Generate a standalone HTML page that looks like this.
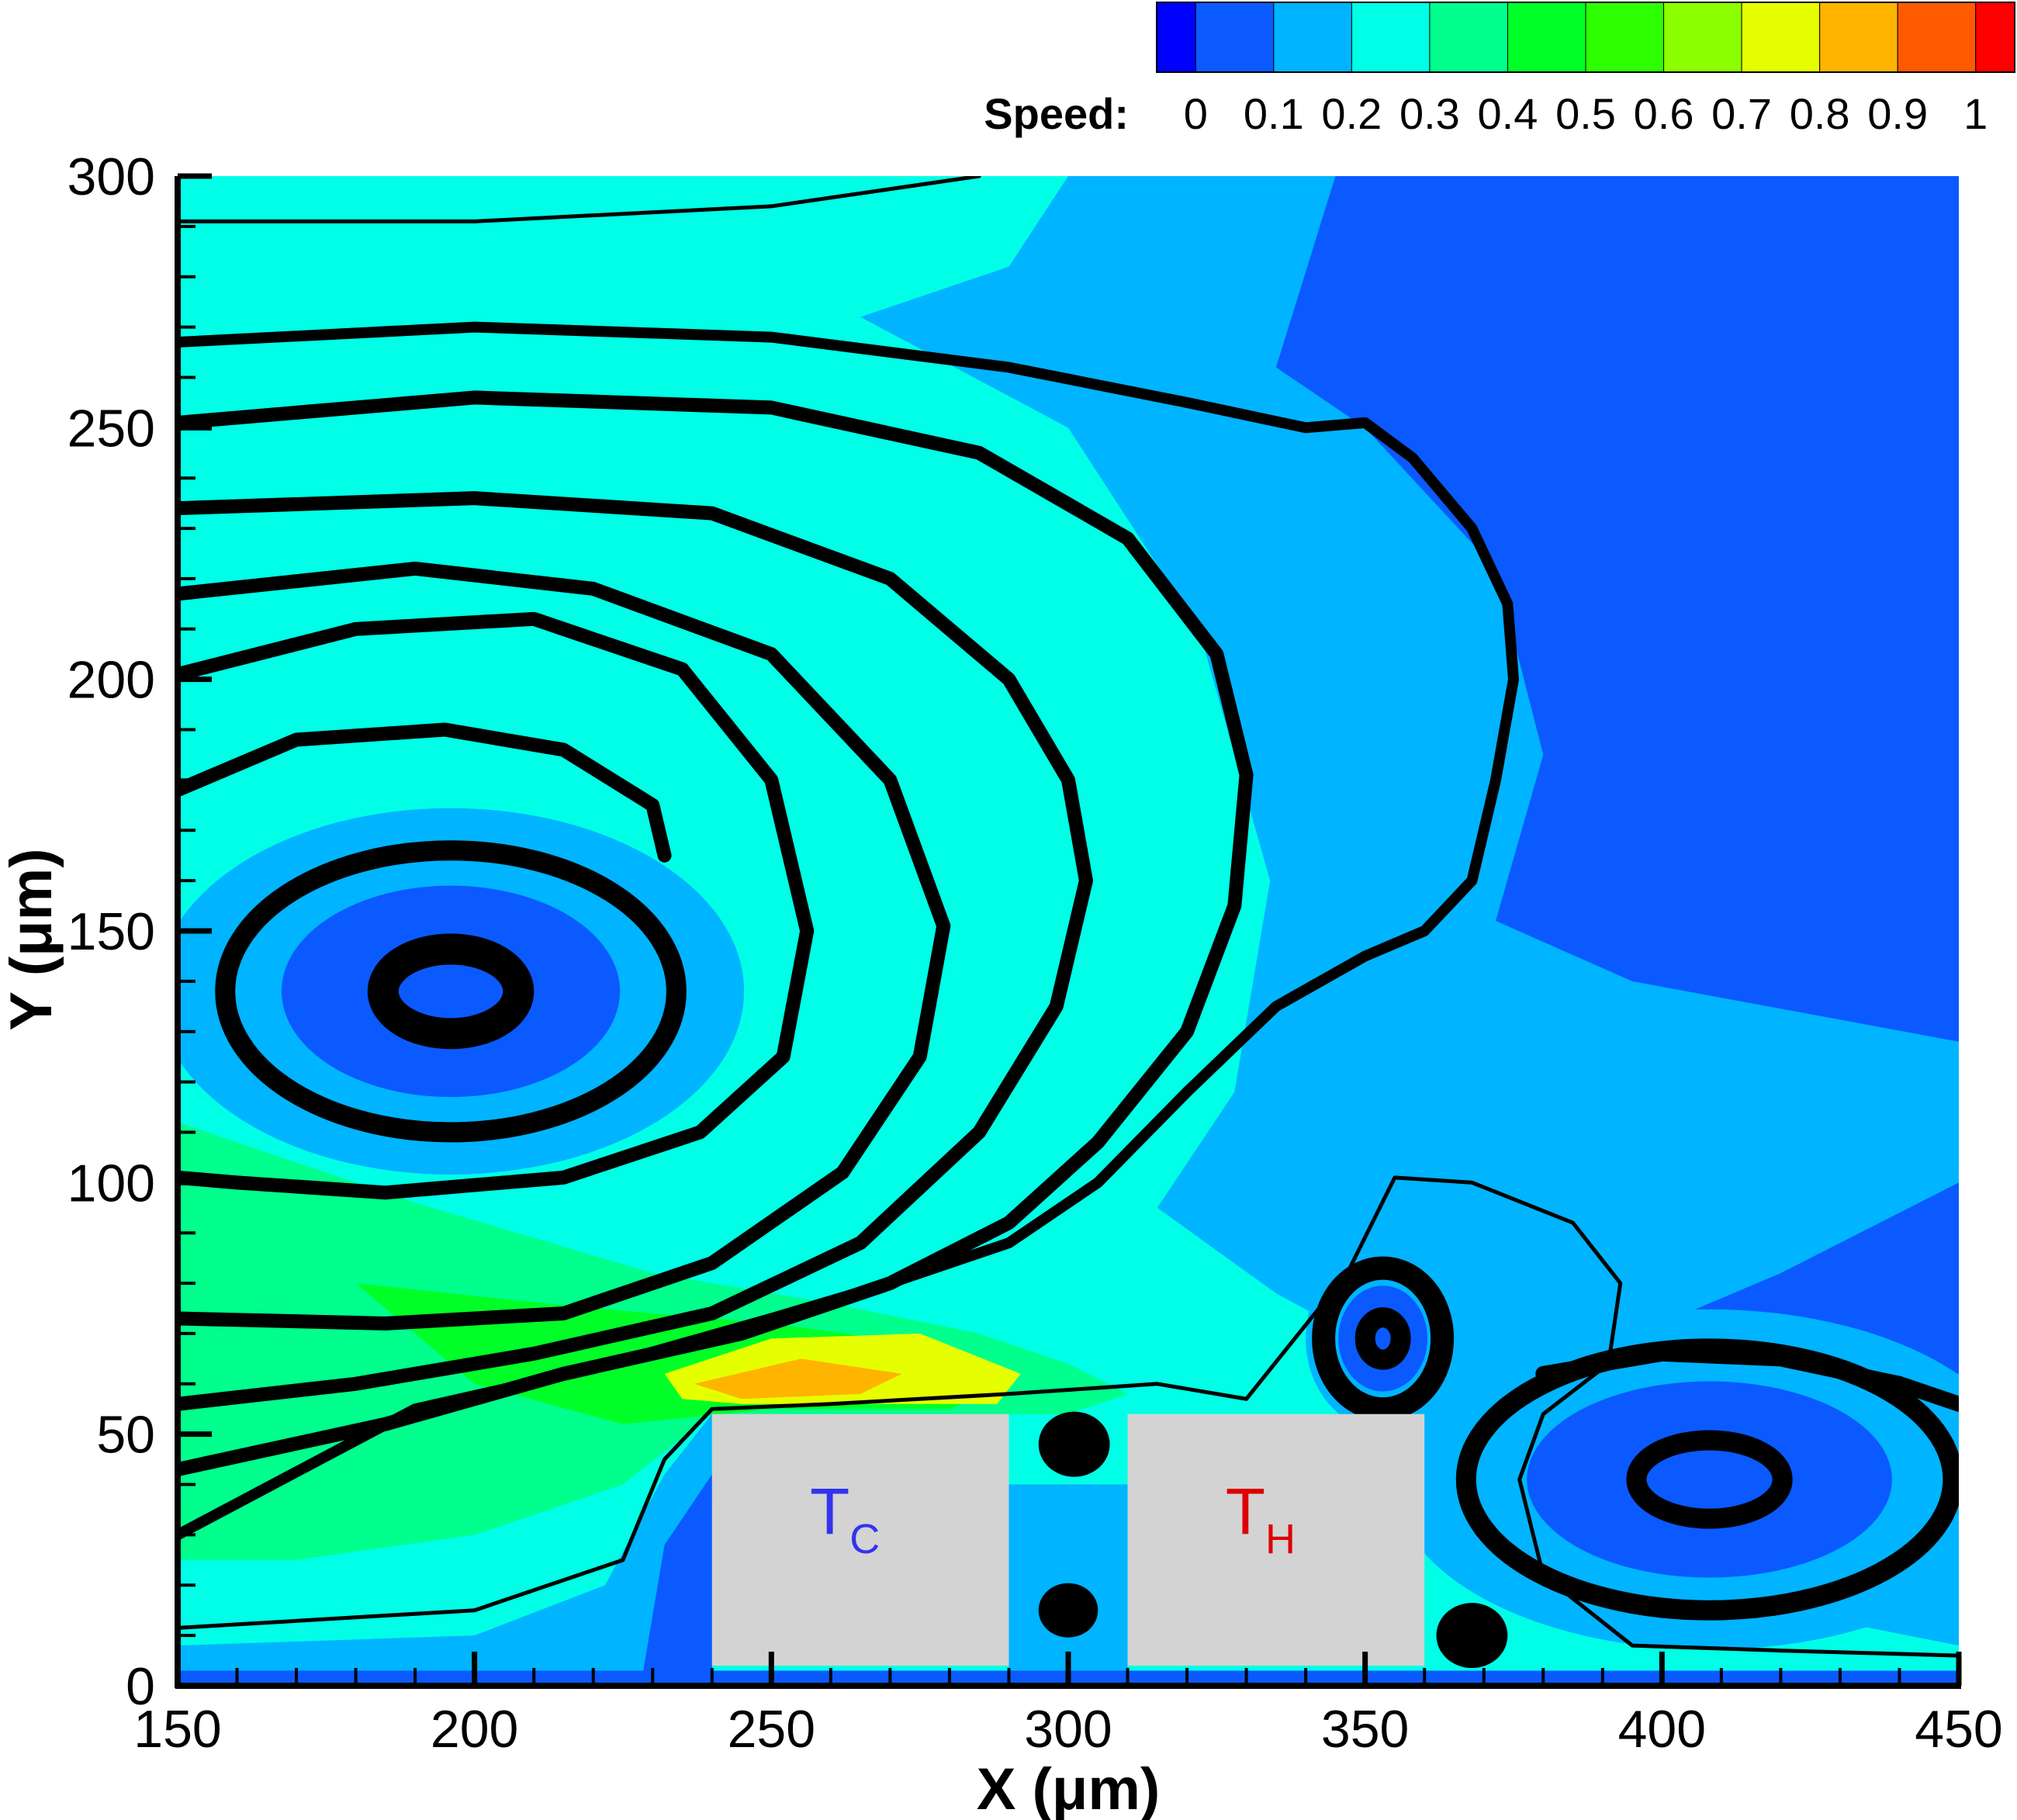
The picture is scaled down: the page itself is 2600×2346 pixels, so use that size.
<!DOCTYPE html>
<html><head><meta charset="utf-8">
<style>
html,body{margin:0;padding:0;background:#fff}
svg{display:block}
text{font-family:"Liberation Sans",sans-serif}
</style></head>
<body>
<svg id="chart" width="2600" height="2346" viewBox="0 0 2600 2346" xmlns="http://www.w3.org/2000/svg">
<defs><clipPath id="pc"><rect x="229" y="227" width="2296" height="1946"/></clipPath></defs>
<g id="field" clip-path="url(#pc)"></g>
<g id="lines" clip-path="url(#pc)"></g>
<g id="blocks"></g>
<g id="axes"></g>
<g id="cbar"></g>
</svg>
<script>
// ---- data ----
const xTicks = [150,200,250,300,350,400,450];
const yTicks = [0,50,100,150,200,250,300];
const cbLevels = [0,0.1,0.2,0.3,0.4,0.5,0.6,0.7,0.8,0.9,1];
const cbLabels = ["0","0.1","0.2","0.3","0.4","0.5","0.6","0.7","0.8","0.9","1"];
const cbColors = ["#0000ff","#0a5aff","#00b4ff","#00ffe6","#00ff8c","#00ff28","#2dff00","#8cff00","#e6ff00","#ffb400","#ff5a00","#ff0000"];
// contour regions (data coords)
const regionLightBlueX = [150,345,335,350,372,380,372,395,450,450,420,400,450,450,150];
const regionLightBlueY = [300,300,262,250,222,185,152,140,128,100,82,72,62,0,0];
const regionCyanX = [150,300,290,265,300,322,334,328,315,335,360,385,420,450,450,150];
const regionCyanY = [300,300,282,272,250,210,160,118,95,78,62,38,15,8,0,0];
const regionGreenX = [150,190,230,260,285,300,310,300,290,240,225,200,170,150];
const regionGreenY = [112,96,82,76,70,64,58,54,54,54,40,30,25,25];
const regionGreen2X = [180,220,250,275,290,280,250,225,200];
const regionGreen2Y = [80,75,72,68,60,55,55,52,60];
const regionYellowX = [232,250,275,292,288,270,245,235];
const regionYellowY = [62,69,70,62,56,56,56,57];
const regionOrangeX = [237,255,272,265,245];
const regionOrangeY = [60,65,62,58,57];
const regionLowBlueX = [150,150,200,222,232,240,240];
const regionLowBlueY = [0,8,10,20,42,54,0];
const regionLowDarkX = [228,232,240,240];
const regionLowDarkY = [0,28,42,0];
const regionGapX = [290,310,310,290];
const regionGapY = [0,0,40,40];
// vortex cores
const vortexCX = [196,353,408];
const vortexCY = [138,69,41];
const vortexRX = [38,10,41];
const vortexRY = [28,14,26];
// streamlines
const s1X=[150,200,250,285]; const s1Y=[291,291,294,300];
const s2X=[150,200,250,290,320,340,350,358,368,374,375,372,368,360,350,335,320,305,290,270,250,220,190,150];
const s2Y=[267,270,268,262,255,250,251,244,230,215,200,180,160,150,145,135,118,100,88,80,73,63,55,30];
const s3X=[150,200,250,285,310,325,330,328,320,305,290,270,245,215,185,150];
const s3Y=[251,256,254,245,228,205,181,155,130,108,92,80,70,62,52,43];
const s4X=[150,200,240,270,290,300,303,298,285,265,240,210,180,150];
const s4Y=[234,236,233,220,200,180,160,135,110,88,74,66,60,56];
const s5X=[150,190,220,250,270,279,275,262,240,215,185,150];
const s5Y=[217,222,218,205,180,151,125,102,84,74,72,73];
const s6X=[150,180,210,235,250,256,252,238,215,185,160,150];
const s6Y=[201,210,212,202,180,150,125,110,101,98,100,101];
const s7X=[150,170,195,215,230,232];
const s7Y=[178,188,190,186,175,165];
const s8X=[150,200,225,232,240,260,290,315,330,347,355,368,385,393,391,380,376,380,395,420,450];
const s8Y=[11.5,15,25,45,55,56,58,60,57,82,101,100,92,80,64,54,41,22,8,7,6];
const s9X=[380,400,420,440,450];
const s9Y=[62,66,65,60,56];
const blobX=[301,300,368]; const blobY=[48,15,10]; const blobR=[6,5,6];
const blockX0=[240,310], blockX1=[290,360], blockY0=4, blockY1=54;

// ---- axes ----
const X0=229,X1=2525,Y0=2173,Y1=227;
const sx=v=>X0+(v-150)/300*(X1-X0);
const sy=v=>Y0-(v/300)*(Y0-Y1);
const NS="http://www.w3.org/2000/svg";
function mk(tag,attrs,parent){const e=document.createElementNS(NS,tag);for(const k in attrs)e.setAttribute(k,attrs[k]);parent.appendChild(e);return e;}
const field=document.getElementById('field');
const lines=document.getElementById('lines');
const blocks=document.getElementById('blocks');
const axes=document.getElementById('axes');
const cbar=document.getElementById('cbar');

let r=mk('rect',{x:X0,y:Y1,width:X1-X0,height:Y0-Y1,fill:cbColors[1]},field);


function poly(xs,ys,col,name){
  const p=mk('polygon',{points:xs.map((x,i)=>sx(x)+','+sy(ys[i])).join(' '),fill:col},field);
  
  
}
poly(regionLightBlueX,regionLightBlueY,cbColors[2],'region-speed-0.2');
poly(regionCyanX,regionCyanY,cbColors[3],'region-speed-0.3');
poly(regionGreenX,regionGreenY,cbColors[4],'region-speed-0.4');
poly(regionGreen2X,regionGreen2Y,cbColors[5],'region-speed-0.5');
poly(regionYellowX,regionYellowY,cbColors[8],'region-speed-0.8');
poly(regionOrangeX,regionOrangeY,cbColors[9],'region-speed-0.9');
poly(regionLowBlueX,regionLowBlueY,cbColors[2],'region-low-speed');
poly(regionLowDarkX,regionLowDarkY,cbColors[1],'region-lowest-speed');
poly(regionGapX,regionGapY,cbColors[2],'region-gap-speed');
[[1.3,2],[0.75,1]].forEach(([k,ci])=>{
  vortexCX.forEach((c,i)=>{
    const e=mk('ellipse',{cx:sx(c),cy:sy(vortexCY[i]),rx:vortexRX[i]*k*7.653,ry:vortexRY[i]*k*6.487,fill:cbColors[ci]},field);
    
    
  });
});
let bs=mk('rect',{x:X0,y:sy(3),width:X1-X0,height:sy(0)-sy(3),fill:cbColors[1]},field);



function path(xs,ys,w,name){
  let d='M'+sx(xs[0])+' '+sy(ys[0]);
  for(let i=1;i<xs.length;i++)d+=' L'+sx(xs[i])+' '+sy(ys[i]);
  const p=mk('path',{d:d,fill:'none',stroke:'#000','stroke-width':w,'stroke-linejoin':'round','stroke-linecap':'round'},lines);
  
  
}
path(s1X,s1Y,5,'streamline-top');
path(s2X,s2Y,14,'streamline-1');
path(s3X,s3Y,18,'streamline-2');
path(s4X,s4Y,18,'streamline-3');
path(s5X,s5Y,18,'streamline-4');
path(s6X,s6Y,18,'streamline-5');
path(s7X,s7Y,18,'streamline-6');
path(s8X,s8Y,5,'streamline-bottom');
path(s9X,s9Y,20,'streamline-right');
vortexCX.forEach((c,i)=>{
  [[1,i==1?30:26],[0.3,i==0?40:26]].forEach(([k,w])=>{
    const e=mk('ellipse',{cx:sx(c),cy:sy(vortexCY[i]),rx:vortexRX[i]*k*7.653,ry:vortexRY[i]*k*6.487,fill:'none',stroke:'#000','stroke-width':w},lines);
    
    
  });
});
blobX.forEach((b,i)=>{
  const c=mk('ellipse',{cx:sx(b),cy:sy(blobY[i]),rx:blobR[i]*7.653,ry:blobR[i]*7,fill:'#000'},lines);
  
  
});

const bcol=['#3333ee','#dd0000'],bsub=['C','H'];
blockX0.forEach((x,i)=>{
  const b=mk('rect',{x:sx(x),y:sy(blockY1),width:sx(blockX1[i])-sx(x),height:sy(blockY0)-sy(blockY1),fill:'#d3d3d3'},blocks);
  
  
  const t=mk('text',{x:(sx(x)+sx(blockX1[i]))/2-20,y:1977,'font-size':84,fill:bcol[i],'text-anchor':'middle'},blocks);
  
  
  t.textContent='T';
  const s=mk('tspan',{'font-size':54,dy:25},t);s.textContent=bsub[i];
});

mk('line',{x1:X0-3,y1:Y0,x2:X1+3,y2:Y0,stroke:'#000','stroke-width':8},axes);
mk('line',{x1:X0,y1:Y0+3,x2:X0,y2:Y1,stroke:'#000','stroke-width':8},axes);
for(let v=150;v<=450;v+=10){
  const maj=(v%50==0);
  const t=mk('line',{x1:sx(v),y1:Y0,x2:sx(v),y2:Y0-(maj?44:23),stroke:'#000','stroke-width':maj?7:4},axes);
  
  
}
for(let v=0;v<=300;v+=10){
  const maj=(v%50==0);
  const t=mk('line',{x1:X0,y1:sy(v),x2:X0+(maj?44:23),y2:sy(v),stroke:'#000','stroke-width':maj?7:4},axes);
  
  
}
xTicks.forEach(v=>{
  const t=mk('text',{x:sx(v),y:2252,'font-size':68,'text-anchor':'middle'},axes);
  
  
  t.textContent=v;
});
yTicks.forEach(v=>{
  const t=mk('text',{x:200,y:sy(v)+24,'font-size':68,'text-anchor':'end'},axes);
  
  
  t.textContent=v;
});
let xt=mk('text',{x:1377,y:2332,'font-size':76,'font-weight':'bold','text-anchor':'middle'},axes);


xt.textContent='X (μm)';
let yt=mk('text',{x:0,y:0,'font-size':76,'font-weight':'bold','text-anchor':'middle',transform:'translate(66,1211) rotate(-90)'},axes);


yt.textContent='Y (μm)';

const CB0=1491,CB1=2597,CBT=3,CBB=93;
const cx=v=>CB0+(CB1-CB0)*(v+0.05)/1.1;
cbColors.forEach((c,i)=>{
  const a=i==0?CB0:cx(cbLevels[i-1]), b=i==cbColors.length-1?CB1:cx(cbLevels[i]);
  const s=mk('rect',{x:a,y:CBT,width:b-a,height:CBB-CBT,fill:c,stroke:'#000','stroke-width':1},cbar);
  
  
});
mk('rect',{x:CB0,y:CBT,width:CB1-CB0,height:CBB-CBT,fill:'none',stroke:'#000','stroke-width':2},cbar);
cbLevels.forEach((v,i)=>{
  const t=mk('text',{x:cx(v),y:166,'font-size':56,'text-anchor':'middle'},cbar);
  
  
  t.textContent=cbLabels[i];
});
let st=mk('text',{x:1455,y:166,'font-size':56,'font-weight':'bold','text-anchor':'end'},cbar);


st.textContent='Speed:';
</script>
</body></html>
